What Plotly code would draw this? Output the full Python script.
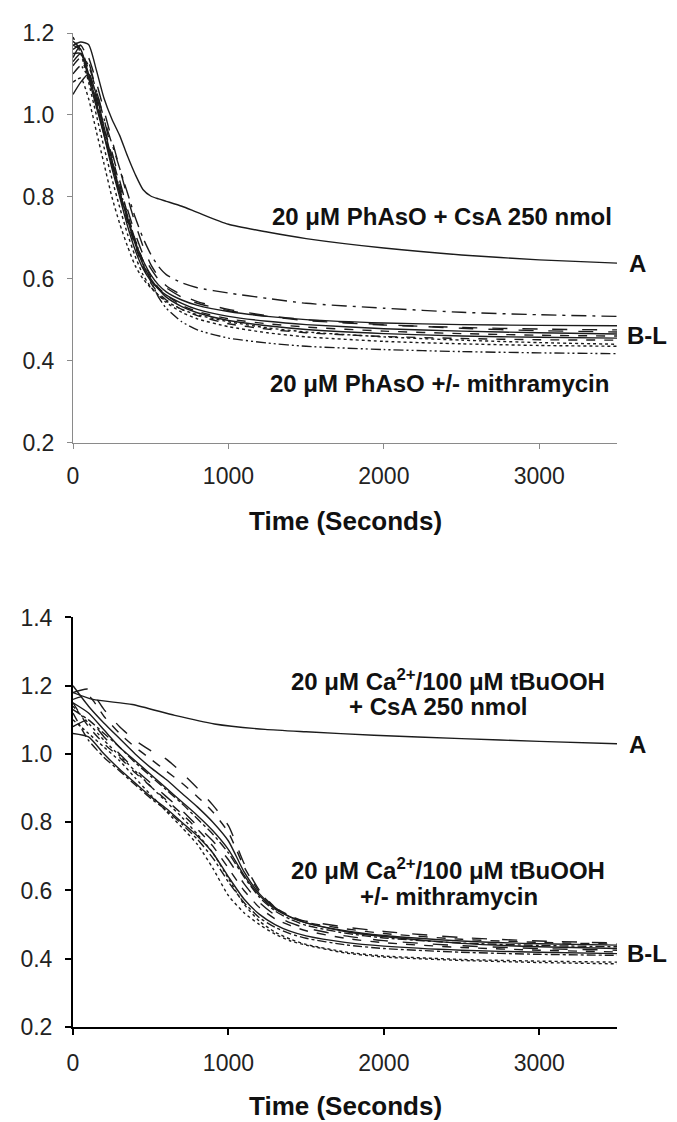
import plotly.graph_objects as go
from plotly.subplots import make_subplots

# ---------------- data: top panel (PhAsO) ----------------
t_top = [0, 50, 100, 150, 200, 250, 300, 350, 400, 450, 500, 550, 600,
         700, 800, 1000, 1250, 1500, 2000, 2500, 3000, 3500]

top_A = [1.17, 1.178, 1.172, 1.11, 1.04, 0.99, 0.95, 0.90, 0.855, 0.818, 0.802, 0.795, 0.789,
         0.777, 0.762, 0.733, 0.714, 0.698, 0.675, 0.658, 0.646, 0.638]

top_B = [1.15, 1.15, 1.09, 1.02, 0.95, 0.88, 0.81, 0.75, 0.69, 0.645, 0.61, 0.585, 0.568,
         0.548, 0.535, 0.52, 0.508, 0.5, 0.492, 0.488, 0.486, 0.485]
top_C = [1.13, 1.15, 1.12, 1.06, 0.99, 0.93, 0.87, 0.81, 0.75, 0.70, 0.66, 0.63, 0.61,
         0.59, 0.578, 0.565, 0.552, 0.54, 0.528, 0.518, 0.512, 0.508]
top_D = [1.16, 1.17, 1.13, 1.06, 0.99, 0.91, 0.84, 0.77, 0.71, 0.66, 0.625, 0.598, 0.578,
         0.555, 0.54, 0.522, 0.508, 0.498, 0.487, 0.481, 0.477, 0.475]
top_E = [1.18, 1.16, 1.10, 1.03, 0.95, 0.87, 0.80, 0.73, 0.67, 0.625, 0.595, 0.575, 0.56,
         0.54, 0.525, 0.508, 0.496, 0.488, 0.478, 0.472, 0.468, 0.465]
top_F = [1.12, 1.14, 1.10, 1.04, 0.97, 0.90, 0.83, 0.76, 0.695, 0.645, 0.605, 0.578, 0.56,
         0.535, 0.52, 0.502, 0.49, 0.482, 0.472, 0.466, 0.462, 0.46]
top_G = [1.08, 1.09, 1.04, 0.96, 0.88, 0.80, 0.735, 0.68, 0.632, 0.60, 0.578, 0.56, 0.545,
         0.525, 0.512, 0.495, 0.48, 0.47, 0.458, 0.45, 0.444, 0.44]
top_H = [1.10, 1.12, 1.09, 1.03, 0.96, 0.89, 0.82, 0.755, 0.695, 0.64, 0.595, 0.555, 0.528,
         0.495, 0.475, 0.455, 0.443, 0.435, 0.427, 0.422, 0.419, 0.417]
top_I = [1.05, 1.08, 1.10, 1.05, 0.97, 0.89, 0.815, 0.745, 0.685, 0.635, 0.60, 0.575, 0.555,
         0.532, 0.517, 0.498, 0.485, 0.476, 0.466, 0.46, 0.457, 0.455]
top_J = [1.17, 1.16, 1.11, 1.04, 0.96, 0.88, 0.805, 0.74, 0.68, 0.63, 0.59, 0.565, 0.548,
         0.525, 0.51, 0.49, 0.477, 0.468, 0.459, 0.454, 0.451, 0.45]
top_K = [1.19, 1.15, 1.08, 1.00, 0.92, 0.845, 0.775, 0.71, 0.655, 0.61, 0.58, 0.56, 0.542,
         0.518, 0.502, 0.483, 0.468, 0.458, 0.447, 0.441, 0.437, 0.435]
top_L = [1.14, 1.17, 1.14, 1.08, 1.01, 0.94, 0.87, 0.80, 0.735, 0.68, 0.635, 0.605, 0.583,
         0.56, 0.544, 0.525, 0.51, 0.50, 0.488, 0.479, 0.473, 0.47]

# ---------------- data: bottom panel (Ca2+/tBuOOH) ----------------
t_bot_A = [0, 127, 382, 655, 910, 1236, 1500, 1936, 2500, 3000, 3500]
bot_A = [1.18, 1.16, 1.145, 1.113, 1.088, 1.072, 1.065, 1.055, 1.045, 1.037, 1.03]

t_bot = [0, 100, 200, 300, 400, 500, 600, 700, 800, 900, 1000, 1100, 1200,
         1300, 1400, 1500, 1750, 2000, 2500, 3000, 3500]

bot_B = [1.18, 1.19, 1.13, 1.08, 1.04, 1.01, 0.985, 0.945, 0.90, 0.85, 0.79, 0.68, 0.60,
         0.55, 0.52, 0.51, 0.493, 0.48, 0.462, 0.452, 0.446]
bot_C = [1.16, 1.17, 1.11, 1.06, 1.02, 0.985, 0.95, 0.915, 0.875, 0.83, 0.77, 0.67, 0.595,
         0.55, 0.525, 0.507, 0.488, 0.474, 0.457, 0.448, 0.443]
bot_D = [1.20, 1.14, 1.09, 1.045, 1.00, 0.96, 0.925, 0.885, 0.845, 0.80, 0.745, 0.655, 0.59,
         0.548, 0.522, 0.505, 0.482, 0.468, 0.452, 0.444, 0.44]
bot_E = [1.13, 1.10, 1.06, 1.02, 0.975, 0.935, 0.895, 0.855, 0.81, 0.765, 0.71, 0.64, 0.58,
         0.54, 0.515, 0.498, 0.475, 0.461, 0.446, 0.439, 0.435]
bot_F = [1.15, 1.12, 1.07, 1.02, 0.98, 0.94, 0.90, 0.86, 0.82, 0.775, 0.72, 0.645, 0.585,
         0.545, 0.522, 0.505, 0.48, 0.465, 0.445, 0.435, 0.43]
bot_G = [1.08, 1.10, 1.05, 1.00, 0.955, 0.915, 0.875, 0.835, 0.79, 0.745, 0.69, 0.62, 0.565,
         0.528, 0.505, 0.49, 0.467, 0.453, 0.438, 0.43, 0.425]
bot_H = [1.15, 1.08, 1.03, 0.99, 0.945, 0.905, 0.865, 0.825, 0.78, 0.73, 0.665, 0.60, 0.55,
         0.517, 0.497, 0.482, 0.46, 0.447, 0.433, 0.425, 0.42]
bot_I = [1.06, 1.05, 1.00, 0.955, 0.915, 0.875, 0.84, 0.80, 0.76, 0.71, 0.64, 0.575, 0.53,
         0.50, 0.48, 0.467, 0.448, 0.437, 0.425, 0.419, 0.415]
bot_J = [1.12, 1.04, 0.99, 0.95, 0.91, 0.87, 0.835, 0.795, 0.75, 0.695, 0.625, 0.565, 0.52,
         0.492, 0.473, 0.46, 0.441, 0.43, 0.419, 0.413, 0.41]
bot_K = [1.14, 1.09, 1.04, 0.995, 0.95, 0.905, 0.86, 0.815, 0.765, 0.71, 0.635, 0.56, 0.51,
         0.478, 0.457, 0.442, 0.42, 0.408, 0.398, 0.393, 0.39]
bot_L = [1.10, 1.06, 1.02, 0.98, 0.93, 0.88, 0.832, 0.785, 0.735, 0.665, 0.585, 0.535, 0.50,
         0.472, 0.452, 0.44, 0.417, 0.405, 0.395, 0.389, 0.385]

x_ticks = [0, 1000, 2000, 3000]

# line styles for the B-L traces
dashdotdot = "10px,3px,2px,3px,2px,3px"
top_series = [(top_B, "solid"), (top_C, "longdashdot"), (top_D, "longdash"), (top_E, "solid"),
              (top_F, "dash"), (top_G, "dot"), (top_H, dashdotdot), (top_I, "solid"),
              (top_J, "dash"), (top_K, "dot"), (top_L, "longdash")]
bot_series = [(bot_B, "longdash"), (bot_C, "dash"), (bot_D, "solid"), (bot_E, "dashdot"),
              (bot_F, "solid"), (bot_G, "longdash"), (bot_H, "dash"), (bot_I, "solid"),
              (bot_J, "dashdot"), (bot_K, "dot"), (bot_L, "dot")]

ink = "#1c1c1c"
fig = make_subplots(rows=2, cols=1)

fig.add_trace(go.Scatter(x=t_top, y=top_A, mode="lines", line=dict(color=ink, width=1.4, shape="spline", smoothing=0.6)), row=1, col=1)
for ys, dash in top_series:
    fig.add_trace(go.Scatter(x=t_top, y=ys, mode="lines",
                             line=dict(color=ink, width=1.4, dash=dash, shape="spline", smoothing=0.6)), row=1, col=1)

fig.add_trace(go.Scatter(x=t_bot_A, y=bot_A, mode="lines", line=dict(color=ink, width=1.4, shape="spline", smoothing=0.6)), row=2, col=1)
for ys, dash in bot_series:
    fig.add_trace(go.Scatter(x=t_bot, y=ys, mode="lines",
                             line=dict(color=ink, width=1.4, dash=dash, shape="spline", smoothing=0.6)), row=2, col=1)

tickfont = dict(family="Liberation Sans, Arial, sans-serif", size=23, color="#222")
bold = "Liberation Sans, Arial, sans-serif"

# the page body adds an 8px offset, so the figure is sized to fit inside the window
fig.update_layout(
    width=669, height=1114, showlegend=False,
    plot_bgcolor="white", paper_bgcolor="white",
    margin=dict(l=58, r=60, t=14, b=95),
    xaxis=dict(domain=[0, 1], range=[0, 3500], tickvals=x_ticks, showgrid=False, zeroline=False,
               showline=True, linecolor="#8a8a8a", linewidth=1, ticks="outside", ticklen=5,
               tickcolor="#8a8a8a", tickfont=tickfont, ticklabelstandoff=8),
    yaxis=dict(domain=[0.588, 1.0], range=[0.2, 1.2], dtick=0.2, tickformat=".1f", showgrid=False,
               zeroline=False, showline=True, linecolor="#8a8a8a", linewidth=1, ticks="outside",
               ticklen=5, tickcolor="#8a8a8a", tickfont=tickfont, ticklabelstandoff=8),
    xaxis2=dict(domain=[0, 1], range=[0, 3500], tickvals=x_ticks, showgrid=False, zeroline=False,
                showline=True, linecolor="black", linewidth=2, ticks="outside", ticklen=6,
                tickwidth=2, tickcolor="black", tickfont=tickfont, ticklabelstandoff=8),
    yaxis2=dict(domain=[0, 0.412], range=[0.2, 1.4], dtick=0.2, tickformat=".1f", showgrid=False,
                zeroline=False, showline=True, linecolor="black", linewidth=2, ticks="outside",
                ticklen=6, tickwidth=2, tickcolor="black", tickfont=tickfont, ticklabelstandoff=8),
)

def note(text, x, y, size=24):
    fig.add_annotation(text="<b>" + text + "</b>", x=x, y=y, xref="paper", yref="paper",
                       showarrow=False, xanchor="center", yanchor="middle",
                       font=dict(family=bold, size=size, color="#111"))

# top panel labels
note("20 μM PhAsO + CsA 250 nmol", 0.679, 0.815)
note("A", 1.038, 0.768)
note("B-L", 1.056, 0.6955)
note("20 μM PhAsO +/- mithramycin", 0.674, 0.647)
note("Time (Seconds)", 0.5, 0.5095, size=26)

# bottom panel labels
note("20 μM Ca<sup>2+</sup>/100 μM tBuOOH", 0.690, 0.349)
note("+ CsA 250 nmol", 0.672, 0.322)
note("A", 1.038, 0.2846)
note("20 μM Ca<sup>2+</sup>/100 μM tBuOOH", 0.690, 0.159)
note("+/- mithramycin", 0.692, 0.131)
note("B-L", 1.056, 0.0736)
note("Time (Seconds)", 0.5, -0.0796, size=26)

fig.write_html("out.html")
